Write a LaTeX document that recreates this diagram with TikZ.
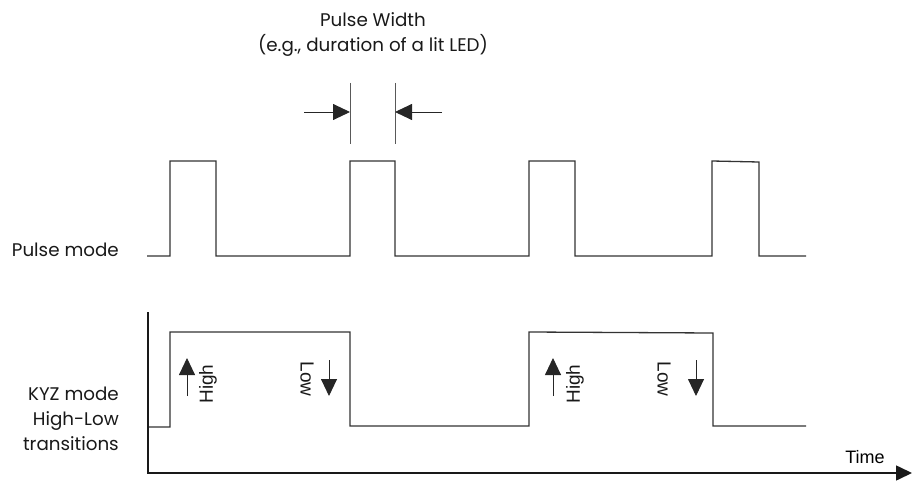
\documentclass[tikz,border=0pt]{standalone}
\usepackage{fontspec}
\setmainfont{Poppins}
\newfontfamily\arialf{Liberation Sans}
\usetikzlibrary{arrows.meta}
\begin{document}
\begin{tikzpicture}[x=1pt,y=-1pt,
  wave/.style={line width=1.3pt,draw=black!80,line join=miter},
  marker/.style={line width=0.9pt,draw=black!65},
  bigarrow/.style={line width=0.9pt,draw=black!85,-{Triangle[length=17pt,width=16pt]}},
  lbl/.style={font=\fontsize{18.3}{25}\selectfont,inner sep=0pt,text=black!90},
  rot/.style={font=\arialf\fontsize{19}{22}\selectfont,inner sep=0pt,text=black!90}]
\useasboundingbox (0,0) rectangle (912,481);
% Pulse width label
\node[lbl,align=center] (pw) at (373,35) {Pulse Width\\(e.g., duration of a lit LED)};
% markers
\coordinate (m1t) at (350,83); \coordinate (m1b) at (350,144);
\coordinate (m2t) at (395,83); \coordinate (m2b) at (395,144);
\draw[marker] (m1t) -- (m1b);
\draw[marker] (m2t) -- (m2b);
\coordinate (a1s) at (304,112); \coordinate (a1e) at (350,112);
\coordinate (a2s) at (442,112); \coordinate (a2e) at (395,112);
\draw[bigarrow] (a1s) -- (a1e);
\draw[bigarrow] (a2s) -- (a2e);
% Pulse mode
\node[lbl,anchor=east] (pm) at (119,250) {Pulse mode};
\draw[wave] (147,256) -- (170,256) -- (170,161) -- (216,161) -- (216,256) -- (350,256) -- (350,161) -- (395,161) -- (395,256) -- (529,256) -- (529,161) -- (575,161) -- (575,256) -- (712,256) -- (712,161) -- (759,162) -- (759,256) -- (806,256);
% KYZ mode
\node[lbl,anchor=east,align=right] (kyz) at (119,419) {KYZ mode\\High-Low\\transitions};
\draw[wave] (148,427) -- (170,427) -- (170,332) -- (350,332) -- (350,426) -- (529,426) -- (529,332) -- (713,333) -- (713,426) -- (806,426);
% axes
\coordinate (ytop) at (148,312);
\coordinate (orig) at (148,473);
\coordinate (xend) at (912,473);
\draw[line width=1.6pt,draw=black!90,-{Triangle[length=16pt,width=15pt]}] (ytop) -- (orig) -- (xend);
\node[font=\arialf\fontsize{18}{20}\selectfont,inner sep=0pt] (time) at (865,457) {Time};
% High / Low arrows
\foreach \hx/\lx in {187/329, 553/696}{
  \draw[bigarrow] (\hx,396) -- (\hx,358);
  \draw[bigarrow] (\lx,360) -- (\lx,396);
}
\node[rot,rotate=90] (h1) at (208,384) {High};
\node[rot,rotate=-90] (l1) at (307,379) {Low};
\node[rot,rotate=90] (h2) at (575,384) {High};
\node[rot,rotate=-90] (l2) at (664,379) {Low};
\end{tikzpicture}
\end{document}
